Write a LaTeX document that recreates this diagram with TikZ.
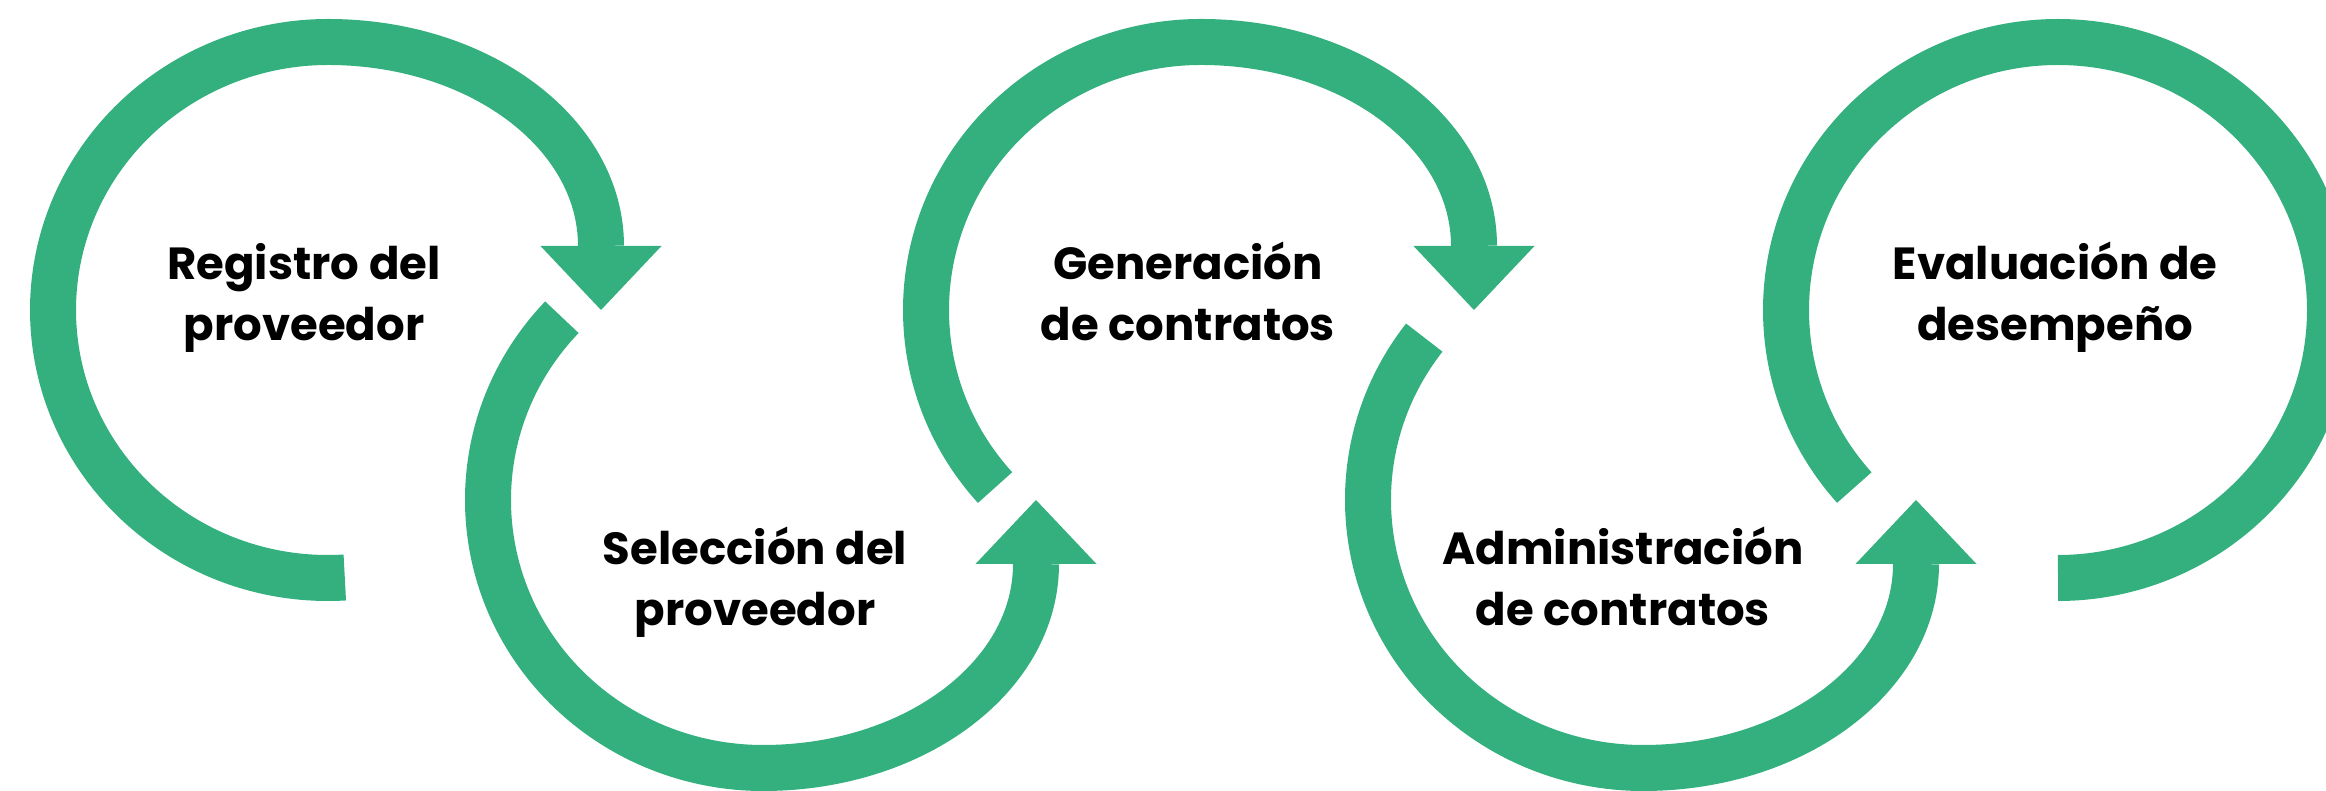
\documentclass[tikz,border=0pt]{standalone}
\usepackage{fontspec}
\setmainfont{Poppins}
\usepackage{tikz}
\usetikzlibrary{arrows.meta}
\definecolor{ringgreen}{HTML}{34B07F}
\tikzset{
  ring/.style={draw=ringgreen, line width=46pt},
  ringarr/.style={ring, -{Triangle[length=64pt, width=121pt, line width=0pt]}},
  stage/.style={font=\fontsize{45}{61}\selectfont\bfseries, text=black, align=center, anchor=base, inner sep=0pt},
}

\begin{document}
\begin{tikzpicture}[x=1pt, y=1pt]
\useasboundingbox (0,0) rectangle (2326,791);
% ring centres and arrow tips
\coordinate (c1) at (328,481);
\coordinate (c2) at (763,291);
\coordinate (c3) at (1201,481);
\coordinate (c4) at (1643,291);
\coordinate (c5) at (2058,481);
\coordinate (t1) at ([xshift=273pt]c1);
\coordinate (t2) at ([xshift=273pt]c2);
\coordinate (t3) at ([xshift=273pt]c3);
\coordinate (t4) at ([xshift=273pt]c4);
% upper rings turn clockwise, lower rings counter-clockwise
\draw[ringarr] ([shift={(273.5:275 and 268)}]c1) arc[start angle=273.5, end angle=90, x radius=275, y radius=268]
  .. controls +(151,0) and +(0,113) .. ([yshift=64pt]t1) -- (t1);
\draw[ringarr] ([shift={(137:275 and 268)}]c2) arc[start angle=137, end angle=270, x radius=275, y radius=268]
  .. controls +(151,0) and +(0,-113) .. ([yshift=-64pt]t2) -- (t2);
\draw[ringarr] ([shift={(221.5:275 and 268)}]c3) arc[start angle=221.5, end angle=90, x radius=275, y radius=268]
  .. controls +(151,0) and +(0,113) .. ([yshift=64pt]t3) -- (t3);
\draw[ringarr] ([shift={(142.7:275 and 268)}]c4) arc[start angle=142.7, end angle=270, x radius=275, y radius=268]
  .. controls +(151,0) and +(0,-113) .. ([yshift=-64pt]t4) -- (t4);
\draw[ring] ([shift={(221.5:272 and 268)}]c5) arc[start angle=221.5, end angle=-90, x radius=272, y radius=268];
% stage labels (base = last line)
\node[stage] (reg) at (304,450) {Registro del\\proveedor};
\node[stage] (sel) at (755,165) {Selección del\\proveedor};
\node[stage] (gen) at (1188,450) {Generación\\de contratos};
\node[stage] (adm) at (1623,165) {Administración\\de contratos};
\node[stage] (eva) at (2055,450) {Evaluación de\\desempeño};
\end{tikzpicture}
\end{document}
